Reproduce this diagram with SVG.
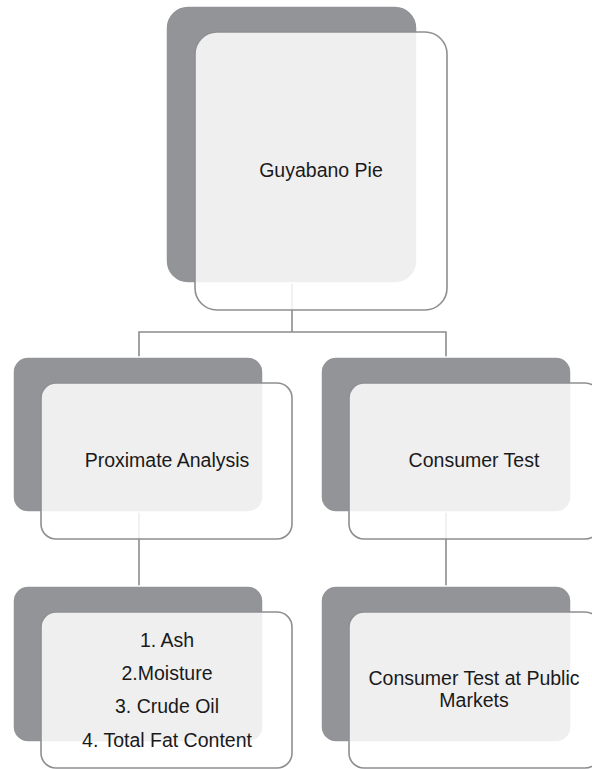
<svg xmlns="http://www.w3.org/2000/svg" width="592" height="769" viewBox="0 0 592 769">
<style>
.back{fill:#939498;stroke:#ffffff;stroke-width:1.5}
.front{fill:#ffffff;fill-opacity:0.85;stroke:#8e8f92;stroke-width:1.6}
.conn{fill:none;stroke:#8b8c8e;stroke-width:1.6}
text{font-family:"Liberation Sans",Arial,sans-serif;font-size:19.5px;fill:#1a1a1a;text-anchor:middle}
</style>
<rect width="592" height="769" fill="#ffffff"/>
<g id="connectors">
<path class="conn" d="M292,283 V332 M139,357 V332 H446 V357"/>
<path class="conn" d="M139,512 V586"/>
<path class="conn" d="M446,512 V586"/>
</g>
<g id="node-guyabano">
<rect class="back" x="166" y="6" width="251" height="277" rx="22"/>
<rect class="front" x="195" y="32" width="252" height="278" rx="22"/>
<text x="321" y="177">Guyabano Pie</text>
</g>
<g id="node-proximate">
<rect class="back" x="13" y="357" width="250" height="155" rx="15"/>
<rect class="front" x="41" y="383" width="251" height="156" rx="15"/>
<text x="167" y="467">Proximate Analysis</text>
</g>
<g id="node-consumer">
<rect class="back" x="321" y="357" width="250" height="155" rx="15"/>
<rect class="front" x="349" y="383" width="251" height="156" rx="15"/>
<text x="474" y="467">Consumer Test</text>
</g>
<g id="node-analysis-list">
<rect class="back" x="13" y="586" width="250" height="156" rx="15"/>
<rect class="front" x="41" y="612" width="251" height="156" rx="15"/>
<text x="167" y="647">1. Ash</text>
<text x="167" y="680">2.Moisture</text>
<text x="167" y="713">3. Crude Oil</text>
<text x="167" y="747">4. Total Fat Content</text>
</g>
<g id="node-public-markets">
<rect class="back" x="321" y="586" width="250" height="156" rx="15"/>
<rect class="front" x="349" y="612" width="251" height="156" rx="15"/>
<text x="474" y="685">Consumer Test at Public</text>
<text x="474" y="707">Markets</text>
</g>
</svg>
